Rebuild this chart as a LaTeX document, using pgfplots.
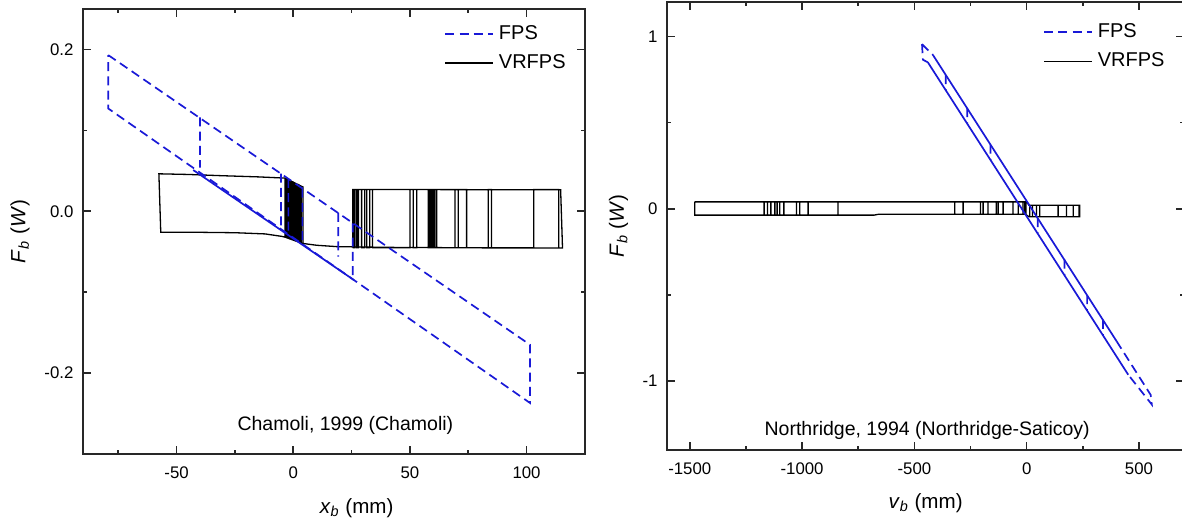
\documentclass[border=0pt]{standalone}
\usepackage{fontspec}
\setmainfont{Liberation Sans}
\usepackage{pgfplots}
\pgfplotsset{compat=1.18}
\definecolor{fpsblue}{RGB}{25,25,215}
\definecolor{axgray}{RGB}{40,40,40}
\pgfplotsset{
  panel/.style={
    scale only axis,
    axis line style={axgray, line width=0.9pt},
    tick style={axgray, line width=0.8pt},
    major tick length=3.8pt,
    minor tick length=2pt,
    tick align=inside,
    unbounded coords=jump,
    tick label style={font=\fontsize{8.4}{10}\selectfont},
    /pgf/number format/assume math mode=true,
    /pgf/number format/1000 sep={},
    xticklabel style={yshift=-2.6pt},
    yticklabel style={xshift=-1.4pt},
    label style={font=\fontsize{10.3}{12}\selectfont},
    legend style={draw=none, fill=none, inner sep=0pt, outer sep=0pt,
      font=\fontsize{10}{11}\selectfont, anchor=north west,
      nodes={inner xsep=2.4pt, inner ysep=2pt}, row sep=2.2pt},
    legend cell align=left,
    reverse legend,
  },
  fps/.style={fpsblue, line width=0.85pt, dash pattern=on 4.5pt off 2.6pt},
  fpssolid/.style={fpsblue, line width=0.85pt},
  vr/.style={black, line width=0.65pt},
}
\begin{document}
\begin{tikzpicture}
% ---------------- left panel ----------------
\begin{axis}[panel,
  at={(41.65pt,35.5pt)}, anchor=south west,
  width=250.8pt, height=222.5pt,
  xmin=-90, xmax=125, ymin=-0.3, ymax=0.25,
  xtick={-50,0,50,100}, minor xtick={-75,-25,25,75},
  ytick={-0.2,0,0.2}, minor ytick={-0.1,0.1},
  yticklabel style={/pgf/number format/.cd, fixed, fixed zerofill, precision=1},
  xlabel={\textit{x}\textsubscript{\textit{b}} (mm)},
  ylabel={\textit{F}\textsubscript{\textit{b}} (\textit{W})},
  xlabel style={at={(axis description cs:0.545,-0.1213)}, anchor=center},
  ylabel style={at={(axis description cs:-0.126,0.5)}, anchor=center},
  legend style={at={(axis description cs:0.7200,0.9725)}},
  legend image code/.code={\draw[#1] (0pt,0pt) -- (24pt,0pt);},
]
\addplot[vr] table {
x y
-3.5 0.041
-15 0.0425
-31 0.044
-45 0.0455
-57.6 0.0463
-56.8 -0.026
-40 -0.026
-25 -0.0265
-12 -0.028
-5 -0.031
-3.5 -0.032
0 -0.0356
3.9 -0.0397
10 -0.042
18.6 -0.0437
40 -0.0446
80 -0.0452
115.4 -0.0454
114.6 0.0265
25.5 0.0270
25.5 -0.0445
nan nan
-3.5 0.0410
-3.5 -0.0320
-2.9 -0.0326
-2.9 0.0401
-2.4 0.0394
-2.4 -0.0331
-1.9 -0.0337
-1.9 0.0387
-1.4 0.0380
-1.4 -0.0342
-0.9 -0.0347
-0.9 0.0373
-0.4 0.0366
-0.4 -0.0353
0.1 -0.0357
0.1 0.0359
0.6 0.0351
0.6 -0.0363
1.1 -0.0368
1.1 0.0344
1.6 0.0337
1.6 -0.0373
2.2 -0.0379
2.2 0.0329
2.8 0.0320
2.8 -0.0385
3.4 -0.0391
3.4 0.0311
4.2 0.0300
4.2 -0.0400
nan nan
25.7 0.0268
25.7 -0.0452
26.4 -0.0452
26.4 0.0268
27.2 0.0268
27.2 -0.0452
27.9 -0.0452
27.9 0.0268
29.3 0.0268
29.3 -0.0452
30.6 -0.0452
30.6 0.0268
31.5 0.0268
31.5 -0.0452
32.8 -0.0452
32.8 0.0268
34.0 0.0268
34.0 -0.0452
50.0 -0.0452
50.0 0.0268
51.4 0.0268
51.4 -0.0452
52.9 -0.0452
52.9 0.0268
57.9 0.0268
57.9 -0.0452
58.6 -0.0452
58.6 0.0268
59.3 0.0268
59.3 -0.0452
60.0 -0.0452
60.0 0.0268
60.7 0.0268
60.7 -0.0452
61.5 -0.0452
61.5 0.0268
69.3 0.0268
69.3 -0.0452
70.7 -0.0452
70.7 0.0268
74.3 0.0268
74.3 -0.0452
83.6 -0.0452
83.6 0.0268
85.0 0.0268
85.0 -0.0452
103.1 -0.0452
103.1 0.0268
113.8 0.0268
113.8 -0.0452
};
\addlegendentry{VRFPS}
\addplot[fpssolid, forget plot] table {
x y
-42.9 0.051
26 -0.085
};
\addplot[fps] table {
x y
-79.3 0.193
101.5 -0.165
101.5 -0.237
-79.3 0.127
-79.3 0.193
nan nan
-40 0.116
-40 0.054
nan nan
-5.3 0.0465
-5.3 -0.022
nan nan
-2.1 0.040
-2.1 -0.028
nan nan
3.9 0.028
3.9 -0.040
nan nan
19.3 -0.002
19.3 -0.056
nan nan
25.5 -0.015
25.5 -0.084
};
\addlegendentry{FPS}
\node[font=\fontsize{9.75}{11}\selectfont] at (axis description cs:0.5225,0.0652) {Chamoli, 1999 (Chamoli)};
\end{axis}
% ---------------- right panel ----------------
\begin{axis}[panel,
  at={(333.65pt,37.5pt)}, anchor=south west,
  width=258.3pt, height=224pt,
  xmin=-1600, xmax=700, ymin=-1.4, ymax=1.2,
  xtick={-1500,-1000,-500,0,500}, minor xtick={-1250,-750,-250,250},
  ytick={-1,0,1}, minor ytick={-0.5,0.5},
  xlabel={\textit{v}\textsubscript{\textit{b}} (mm)},
  ylabel={\textit{F}\textsubscript{\textit{b}} (\textit{W})},
  xlabel style={at={(axis description cs:0.5,-0.118)}, anchor=center},
  ylabel style={at={(axis description cs:-0.0945,0.5)}, anchor=center},
  legend style={at={(axis description cs:0.728,0.961)}},
  legend image code/.code={\draw[#1] (0pt,0pt) -- (24pt,0pt);},
]
\addplot[vr] table {
x y
-1478 0.040
-1478 -0.037
-680 -0.037
-660 -0.032
-5 -0.032
10 -0.046
236 -0.046
236 0.021
10 0.021
0 0.040
-1478 0.040
nan nan
-1169 0.040
-1169 -0.037
-1154 -0.037
-1154 0.040
-1139 0.040
-1139 -0.037
-1121 -0.037
-1121 0.040
-1111 0.040
-1111 -0.037
-1099 -0.037
-1099 0.040
-1081 0.040
-1081 -0.037
-1025 -0.037
-1025 0.040
-1010 0.040
-1010 -0.037
-973 -0.037
-973 0.040
-840 0.040
-840 -0.037
nan nan
-320 0.040
-320 -0.032
-283 -0.032
-283 0.040
-206 0.040
-206 -0.032
-194 -0.032
-194 0.040
-172 0.040
-172 -0.032
-135 -0.032
-135 0.040
-127 0.040
-127 -0.032
-105 -0.032
-105 0.040
-61 0.040
-61 -0.032
-38 -0.032
-38 0.040
-16 0.040
-16 -0.032
-8 -0.032
-8 0.040
-3 0.040
-3 -0.032
nan nan
14 0.021
14 -0.046
26 -0.046
26 0.021
44 0.021
44 -0.046
58 -0.046
58 0.021
140 0.021
140 -0.046
177 -0.046
177 0.021
207 0.021
207 -0.046
233 -0.046
233 0.021
};
\addlegendentry{VRFPS}
\addplot[fpssolid, forget plot] table {
x y
-440 0.850
452 -0.963
nan nan
-418 0.894
400 -0.768
};
\addplot[fps] table {
x y
-466 0.955
-462 0.865
-440 0.850
nan nan
-466 0.955
-418 0.894
nan nan
400 -0.768
552 -1.080
557 -1.136
452 -0.963
nan nan
-360 0.7763
-360 0.6878
nan nan
-265 0.5835
-265 0.4950
nan nan
-161 0.3723
-161 0.2838
nan nan
49 -0.0540
49 -0.1425
nan nan
168 -0.2955
168 -0.3840
nan nan
269 -0.5006
269 -0.5891
nan nan
340 -0.6447
340 -0.7332
};
\addlegendentry{FPS}
\node[font=\fontsize{9.75}{11}\selectfont] at (axis description cs:0.503,0.0446) {Northridge, 1994 (Northridge-Saticoy)};
\end{axis}
\pgfresetboundingbox
\useasboundingbox (0,0) rectangle (591pt,262.5pt);
\end{tikzpicture}
\end{document}
